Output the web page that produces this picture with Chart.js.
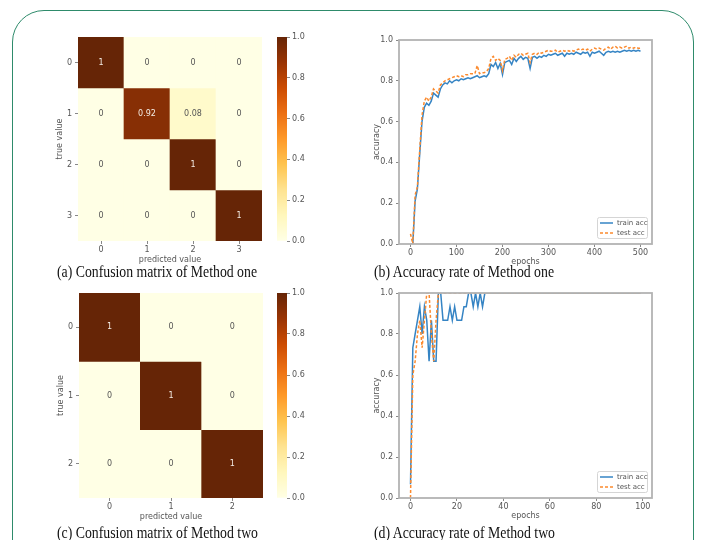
<!DOCTYPE html>
<html><head><meta charset="utf-8">
<script src="https://cdn.jsdelivr.net/npm/chart.js@4.4.1/dist/chart.umd.min.js"></script>
<style>
html,body{margin:0;padding:0;background:#fff;width:702px;height:540px;overflow:hidden;position:relative}
.frame{position:absolute;left:12px;top:10px;width:682px;height:640px;border:1.5px solid #2e8b6b;border-radius:32px;box-sizing:border-box}
canvas{position:absolute}
.cap{position:absolute;font-family:"Liberation Serif","Times New Roman",serif;font-size:16px;line-height:18px;color:#111;white-space:nowrap;transform-origin:0 50%}
</style></head><body>
<div class="frame"></div>
<canvas id="cm1" width="211" height="241" style="left:51px;top:28px"></canvas>
<canvas id="cb1" width="40" height="220" style="left:277px;top:28px"></canvas>
<canvas id="acc1" width="300" height="241" style="left:368px;top:30px"></canvas>
<canvas id="cm2" width="211" height="242" style="left:52px;top:284px"></canvas>
<canvas id="cb2" width="40" height="221" style="left:277px;top:284px"></canvas>
<canvas id="acc2" width="300" height="242" style="left:368px;top:283px"></canvas>
<div class="cap" data-w="200" style="left:57px;top:263px">(a) Confusion matrix of Method one</div>
<div class="cap" data-w="180" style="left:374px;top:263px">(b) Accuracy rate of Method one</div>
<div class="cap" data-w="201" style="left:57px;top:524px">(c) Confusion matrix of Method two</div>
<div class="cap" data-w="181" style="left:374px;top:524px">(d) Accuracy rate of Method two</div>
<script>
// ---------------- data ----------------
const CM1_LABELS = ['0','1','2','3'];
const CM1 = [[1,0,0,0],[0,0.92,0.08,0],[0,0,1,0],[0,0,0,1]];
const CM2_LABELS = ['0','1','2'];
const CM2 = [[1,0,0],[0,1,0],[0,0,1]];
const CBAR_TICKS = [0,0.2,0.4,0.6,0.8,1.0];
const ACC_TICKS = [0,0.2,0.4,0.6,0.8,1.0];
const EPOCH_TICKS_1 = [0,100,200,300,400,500];
const EPOCH_TICKS_2 = [0,20,40,60,80,100];
const SERIES_LABELS = ['train acc','test acc'];

const EPOCHS_1 = [0,5,10,15,20,25,30,35,40,45,50,55,60,65,70,75,80,85,90,95,
 100,105,110,115,120,125,130,135,140,145,150,155,160,165,170,175,180,185,190,195,
 200,205,210,215,220,225,230,235,240,245,250,255,260,265,270,275,280,285,290,295,
 300,305,310,315,320,325,330,335,340,345,350,355,360,365,370,375,380,385,390,395,
 400,405,410,415,420,425,430,435,440,445,450,455,460,465,470,475,480,485,490,495,500];
const TRAIN_1 = [0.0,0.0,0.21,0.27,0.44,0.60,0.67,0.69,0.68,0.70,0.74,0.73,0.72,0.76,0.78,0.79,0.785,0.80,0.79,0.80,
 0.805,0.80,0.81,0.805,0.81,0.815,0.81,0.815,0.82,0.825,0.815,0.82,0.825,0.82,0.835,0.88,0.87,0.89,0.86,0.885,
 0.83,0.89,0.895,0.90,0.88,0.91,0.895,0.91,0.92,0.905,0.915,0.91,0.86,0.915,0.92,0.91,0.92,0.915,0.925,0.92,
 0.93,0.925,0.93,0.935,0.925,0.93,0.935,0.92,0.935,0.93,0.935,0.93,0.94,0.935,0.93,0.94,0.935,0.94,0.92,0.94,
 0.935,0.94,0.945,0.935,0.925,0.94,0.945,0.94,0.945,0.94,0.945,0.94,0.945,0.95,0.945,0.95,0.945,0.95,0.945,0.95,0.945];
const TEST_1 = [0.05,0.0,0.24,0.28,0.46,0.63,0.70,0.72,0.70,0.72,0.76,0.75,0.74,0.78,0.79,0.80,0.805,0.81,0.815,0.82,
 0.825,0.82,0.825,0.82,0.83,0.83,0.835,0.835,0.835,0.875,0.835,0.84,0.84,0.845,0.86,0.91,0.92,0.90,0.91,0.90,
 0.85,0.905,0.91,0.92,0.90,0.925,0.915,0.93,0.935,0.925,0.93,0.935,0.89,0.93,0.935,0.93,0.94,0.935,0.94,0.945,
 0.95,0.945,0.945,0.95,0.94,0.945,0.95,0.945,0.95,0.945,0.95,0.945,0.95,0.955,0.95,0.955,0.95,0.955,0.945,0.955,
 0.96,0.955,0.96,0.955,0.95,0.96,0.965,0.955,0.965,0.97,0.96,0.965,0.96,0.965,0.97,0.96,0.965,0.96,0.965,0.96,0.96];

const EPOCHS_2 = [0,1,2,3,4,5,6,7,8,9,10,11,12,13,14,15,16,17,18,19,20,21,22,23,24,25,26,27,28,29,
 30,31,32,33,34,35,36,37,38,39,40,41,42,43,44,45,46,47,48,49,50,51,52,53,54,55,56,57,58,59,
 60,61,62,63,64,65,66,67,68,69,70,71,72,73,74,75,76,77,78,79,80,81,82,83,84,85,86,87,88,89,
 90,91,92,93,94,95,96,97,98,99];
const TRAIN_2 = [0.067,0.733,0.8,0.867,0.933,0.8,0.933,0.867,0.667,0.867,0.667,0.667,1.0,1.0,0.867,0.867,0.867,0.933,0.867,0.933,
 0.867,0.867,0.867,0.933,0.933,1.0,1.0,0.933,1.0,0.933,1.0,0.933,1.0,1.0,1.0,1.0,1.0,1.0,1.0,1.0,
 1.0,1.0,1.0,1.0,1.0,1.0,1.0,1.0,1.0,1.0,1.0,1.0,1.0,1.0,1.0,1.0,1.0,1.0,1.0,1.0,
 1.0,1.0,1.0,1.0,1.0,1.0,1.0,1.0,1.0,1.0,1.0,1.0,1.0,1.0,1.0,1.0,1.0,1.0,1.0,1.0,
 1.0,1.0,1.0,1.0,1.0,1.0,1.0,1.0,1.0,1.0,1.0,1.0,1.0,1.0,1.0,1.0,1.0,1.0,1.0,1.0];
const TEST_2 = [0.0,0.6,0.667,0.8,0.867,0.733,0.867,1.0,1.0,0.8,0.667,0.867,1.0,1.0,1.0,1.0,1.0,1.0,1.0,1.0,
 1.0,1.0,1.0,1.0,1.0,1.0,1.0,1.0,1.0,1.0,1.0,1.0,1.0,1.0,1.0,1.0,1.0,1.0,1.0,1.0,
 1.0,1.0,1.0,1.0,1.0,1.0,1.0,1.0,1.0,1.0,1.0,1.0,1.0,1.0,1.0,1.0,1.0,1.0,1.0,1.0,
 1.0,1.0,1.0,1.0,1.0,1.0,1.0,1.0,1.0,1.0,1.0,1.0,1.0,1.0,1.0,1.0,1.0,1.0,1.0,1.0,
 1.0,1.0,1.0,1.0,1.0,1.0,1.0,1.0,1.0,1.0,1.0,1.0,1.0,1.0,1.0,1.0,1.0,1.0,1.0,1.0];

// ---------------- style ----------------
const YLORBR = ['#ffffe5','#fff7bc','#fee391','#fec44f','#fe9929','#ec7014','#cc4c02','#993404','#662506'];
const BLUE = '#3584c4', ORANGE = '#fb8a2e';
const TXT = '#555', TICKC = '#888';
Chart.defaults.font.family = '"DejaVu Sans", sans-serif';
Chart.defaults.font.size = 8;

function hex(c){return [1,3,5].map(i=>parseInt(c.substr(i,2),16));}
function cmap(v){
  const t = Math.max(0,Math.min(1,v))*(YLORBR.length-1);
  const i = Math.min(Math.floor(t), YLORBR.length-2), f = t-i;
  const a = hex(YLORBR[i]), b = hex(YLORBR[i+1]);
  return 'rgb('+a.map((x,k)=>Math.round(x+(b[k]-x)*f)).join(',')+')';
}

const annot = {id:'annot', afterDatasetsDraw(chart){
  const ctx = chart.ctx; ctx.save();
  ctx.font = '8px "DejaVu Sans"'; ctx.textAlign='center'; ctx.textBaseline='middle';
  chart.data.datasets.forEach((ds,di)=>{
    chart.getDatasetMeta(di).data.forEach((bar,j)=>{
      const v = ds.values[j];
      ctx.fillStyle = v>0.5 ? '#f3ece4' : '#555';
      ctx.fillText(String(v), bar.x, (bar.y+bar.base)/2);
    });
  });
  ctx.restore();
}};

const framePlugin = {id:'frame', afterDatasetsDraw(chart){
  const a = chart.chartArea, ctx = chart.ctx; ctx.save();
  ctx.strokeStyle = '#b3b3b3'; ctx.lineWidth = 1.8;
  ctx.strokeRect(a.left, a.top, a.right-a.left, a.bottom-a.top);
  ctx.restore();
}};

const legendPlugin = {id:'boxLegend', afterDraw(chart){
  const ctx = chart.ctx, a = chart.chartArea;
  const w = 50, h = 21, x = a.right-5-w, y = a.bottom-6-h;
  ctx.save();
  ctx.fillStyle='rgba(255,255,255,0.85)'; ctx.strokeStyle='#d5d5d5'; ctx.lineWidth=1;
  ctx.beginPath(); ctx.roundRect(x+0.5,y+0.5,w,h,2); ctx.fill(); ctx.stroke();
  chart.data.datasets.forEach((ds,i)=>{
    const yy = y+6+i*10;
    ctx.strokeStyle = ds.borderColor; ctx.lineWidth = ds.borderWidth; ctx.setLineDash(ds.borderDash||[]);
    ctx.beginPath(); ctx.moveTo(x+3,yy); ctx.lineTo(x+16,yy); ctx.stroke();
    ctx.setLineDash([]);
    ctx.fillStyle = TXT; ctx.font = '7px "DejaVu Sans"'; ctx.textBaseline='middle'; ctx.textAlign='left';
    ctx.fillText(ds.label, x+20, yy);
  });
  ctx.restore();
}};

function heatmap(id, labels, M){
  const n = labels.length;
  const datasets = M.map((row,r)=>({
    label:'row '+labels[r],
    data: row.map(()=>[r-0.5, r+0.5]),
    values: row,
    backgroundColor: row.map(v=>cmap(v)),
    borderWidth:0, barPercentage:1, categoryPercentage:1, grouped:false
  }));
  new Chart(document.getElementById(id), {
    type:'bar', data:{labels, datasets},
    options:{
      responsive:false, animation:false, events:[],
      layout:{padding:{top:9,right:0,bottom:0,left:0}},
      plugins:{legend:{display:false}, tooltip:{enabled:false}},
      scales:{
        x:{type:'category', offset:true,
           grid:{display:true, offset:false, drawOnChartArea:false, tickLength:3, color:TICKC},
           border:{display:false},
           ticks:{color:TXT, padding:1, maxRotation:0},
           title:{display:true, text:'predicted value', color:TXT, padding:{top:1,bottom:4}},
           afterFit(s){s.height=28;}},
        y:{type:'linear', min:-0.5, max:n-0.5, reverse:true,
           afterBuildTicks(s){s.ticks = labels.map((_,i)=>({value:i}));},
           grid:{display:true, drawOnChartArea:false, tickLength:3, color:TICKC},
           border:{display:false},
           ticks:{color:TXT, padding:3, callback:(v,i)=>labels[i]},
           title:{display:true, text:'true value', color:TXT, padding:{top:4,bottom:2}},
           afterFit(s){s.width=27;}}
      }
    },
    plugins:[annot]
  });
}

function colorbar(id){
  new Chart(document.getElementById(id), {
    type:'bar',
    data:{labels:['scale'], datasets:[{data:[[CBAR_TICKS[0], CBAR_TICKS[CBAR_TICKS.length-1]]],
      backgroundColor(ctx){
        const a = ctx.chart.chartArea; if(!a) return YLORBR[0];
        const g = ctx.chart.ctx.createLinearGradient(0,a.bottom,0,a.top);
        YLORBR.forEach((c,i)=>g.addColorStop(i/(YLORBR.length-1), c));
        return g;
      }, borderWidth:0, barPercentage:1, categoryPercentage:1}]},
    options:{
      responsive:false, animation:false, events:[],
      layout:{padding:{top:9,right:0,bottom:7,left:0}},
      plugins:{legend:{display:false}, tooltip:{enabled:false}},
      scales:{
        x:{display:false},
        y:{position:'right', min:0, max:1,
           afterBuildTicks(s){s.ticks = CBAR_TICKS.map(v=>({value:v}));},
           ticks:{color:TXT, padding:2, callback:v=>Number(v).toFixed(1)},
           grid:{display:true, drawOnChartArea:false, tickLength:3, color:TICKC},
           border:{display:false},
           afterFit(s){s.width=30;}}
      }
    }
  });
}

function accuracy(id, epochs, train, test, xmin, xmax, xticks){
  new Chart(document.getElementById(id), {
    type:'line',
    data:{datasets:[
      {label:SERIES_LABELS[0], data:epochs.map((e,i)=>({x:e,y:train[i]})), borderColor:BLUE, borderWidth:1.5,
       pointRadius:0, fill:false, tension:0, order:1},
      {label:SERIES_LABELS[1], data:epochs.map((e,i)=>({x:e,y:test[i]})), borderColor:ORANGE, borderWidth:1.5,
       borderDash:[3,2], pointRadius:0, fill:false, tension:0, order:0}
    ]},
    options:{
      responsive:false, animation:false, events:[],
      layout:{padding:{top:10,right:16,bottom:0,left:0}},
      plugins:{legend:{display:false}, tooltip:{enabled:false}},
      scales:{
        x:{type:'linear', min:xmin, max:xmax,
           afterBuildTicks(s){s.ticks = xticks.map(v=>({value:v}));},
           ticks:{color:TXT, padding:1, maxRotation:0, callback:v=>String(v)},
           grid:{display:true, drawOnChartArea:false, tickLength:3, color:TICKC},
           border:{display:false},
           title:{display:true, text:'epochs', color:TXT, padding:{top:1,bottom:4}},
           afterFit(s){s.height=27;}},
        y:{type:'linear', min:0, max:1,
           afterBuildTicks(s){s.ticks = ACC_TICKS.map(v=>({value:v}));},
           ticks:{color:TXT, padding:3, callback:v=>Number(v).toFixed(1)},
           grid:{display:true, drawOnChartArea:false, tickLength:3, color:TICKC},
           border:{display:false},
           title:{display:true, text:'accuracy', color:TXT, padding:{top:4,bottom:2}},
           afterFit(s){s.width=31;}}
      }
    },
    plugins:[framePlugin, legendPlugin]
  });
}

heatmap('cm1', CM1_LABELS, CM1);
colorbar('cb1');
accuracy('acc1', EPOCHS_1, TRAIN_1, TEST_1, -25, 525, EPOCH_TICKS_1);
heatmap('cm2', CM2_LABELS, CM2);
colorbar('cb2');
accuracy('acc2', EPOCHS_2, TRAIN_2, TEST_2, -4.95, 103.95, EPOCH_TICKS_2);

document.querySelectorAll('.cap').forEach(el=>{
  const w = el.getBoundingClientRect().width;
  el.style.transform = 'scaleX('+(Number(el.dataset.w)/w)+')';
});
</script>
</body></html>
